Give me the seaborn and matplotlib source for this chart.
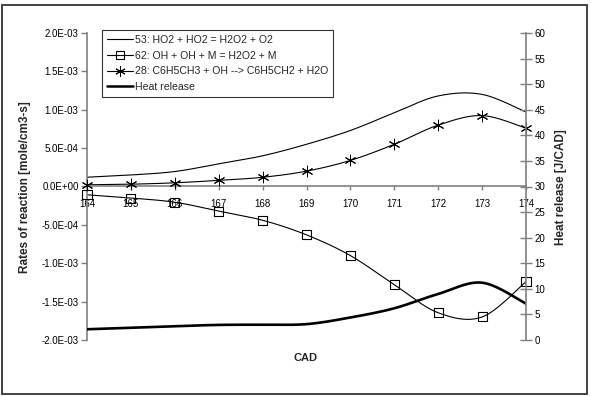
import numpy as np
import pandas as pd
import matplotlib
matplotlib.use("Agg")
import matplotlib.pyplot as plt
import seaborn as sns
from matplotlib.lines import Line2D
from matplotlib.patches import Rectangle
from matplotlib.ticker import FuncFormatter, MultipleLocator

# ---- data ----
cad = [164, 165, 166, 167, 168, 169, 170, 171, 172, 173, 174]
r53 = [1.21e-4, 1.50e-4, 1.95e-4, 2.95e-4, 4.0e-4, 5.5e-4, 7.3e-4, 9.6e-4, 1.18e-3, 1.20e-3, 9.7e-4]
r62 = [-1.08e-4, -1.5e-4, -2.05e-4, -3.2e-4, -4.4e-4, -6.3e-4, -9.0e-4, -1.28e-3, -1.645e-3, -1.70e-3, -1.24e-3]
r28 = [2.2e-5, 3.0e-5, 4.8e-5, 8.0e-5, 1.2e-4, 2.0e-4, 3.4e-4, 5.5e-4, 8.0e-4, 9.24e-4, 7.6e-4]
heat = [2.1, 2.4, 2.7, 2.95, 3.0, 3.1, 4.4, 6.2, 9.0, 11.2, 7.1]

labels = ["53: HO2 + HO2 = H2O2 + O2",
          "62: OH + OH + M = H2O2 + M",
          "28: C6H5CH3 + OH --> C6H5CH2 + H2O",
          "Heat release"]


def smooth(x, y, n=30):
    """Excel-style smoothed line (cubic Bezier through the points)."""
    x = np.asarray(x, float)
    y = np.asarray(y, float)
    px = np.concatenate([[x[0]], x, [x[-1]]])
    py = np.concatenate([[y[0]], y, [y[-1]]])
    xs, ys = [], []
    t = np.linspace(0, 1, n)
    for i in range(1, len(px) - 2):
        p0 = np.array([px[i], py[i]])
        p3 = np.array([px[i + 1], py[i + 1]])
        c1 = p0 + (np.array([px[i + 1], py[i + 1]]) - np.array([px[i - 1], py[i - 1]])) / 6
        c2 = p3 - (np.array([px[i + 2], py[i + 2]]) - np.array([px[i], py[i]])) / 6
        pts = ((1 - t) ** 3)[:, None] * p0 + (3 * (1 - t) ** 2 * t)[:, None] * c1 \
            + (3 * (1 - t) * t ** 2)[:, None] * c2 + (t ** 3)[:, None] * p3
        xs.extend(pts[:, 0])
        ys.extend(pts[:, 1])
    return pd.DataFrame({"x": xs, "y": ys})


sns.set_theme(style="white")
plt.rcParams["font.family"] = ["Liberation Sans", "DejaVu Sans"]

fig = plt.figure(figsize=(5.91, 3.96), dpi=100)
fig.patches.append(Rectangle((0.003, 0.005), 0.991, 0.983, transform=fig.transFigure,
                             fill=False, edgecolor="#333333", linewidth=1.3, zorder=0))

ax = fig.add_axes([87 / 591, 1 - 340 / 396, (526 - 87) / 591, (340 - 33) / 396])
ax.set_facecolor("none")
ax2 = ax.twinx()

gray = "#808080"
lw = 0.8

# reaction rates
d53 = smooth(cad, r53)
d62 = smooth(cad, r62)
d28 = smooth(cad, r28)
sns.lineplot(data=d53, x="x", y="y", ax=ax, color="black", linewidth=lw, sort=False,
             estimator=None, legend=False)
sns.lineplot(data=d62, x="x", y="y", ax=ax, color="black", linewidth=lw, sort=False,
             estimator=None, legend=False)
sns.lineplot(data=d28, x="x", y="y", ax=ax, color="black", linewidth=lw, sort=False,
             estimator=None, legend=False)
pts = pd.DataFrame({"cad": cad, "r62": r62, "r28": r28})
sns.scatterplot(data=pts, x="cad", y="r62", ax=ax, marker="s", s=42,
                facecolor="none", edgecolor="black", linewidth=0.8, clip_on=False, zorder=5)
ax.scatter(cad, r28, marker=(6, 2, 0), s=60, color="black", linewidth=0.7, clip_on=False, zorder=5)

# heat release
dh = smooth(cad, heat)
sns.lineplot(data=dh, x="x", y="y", ax=ax2, color="black", linewidth=1.9, sort=False,
             estimator=None, legend=False)

ax.set_xlim(164, 174)
ax.set_ylim(-2.0e-3, 2.0e-3)
ax2.set_ylim(0, 60)

# spines
for s in ["top", "right"]:
    ax.spines[s].set_visible(False)
for s in ["top", "left", "bottom"]:
    ax2.spines[s].set_visible(False)
ax.spines["bottom"].set_position(("data", 0))
for sp in [ax.spines["left"], ax.spines["bottom"], ax2.spines["right"]]:
    sp.set_color(gray)
    sp.set_linewidth(1.2)

ax.yaxis.set_major_locator(MultipleLocator(5e-4))
ax.yaxis.set_major_formatter(FuncFormatter(lambda v, p: "%.1E" % v))
ax.xaxis.set_major_locator(MultipleLocator(1))
ax2.yaxis.set_major_locator(MultipleLocator(5))

ax.tick_params(axis="y", left=True, direction="out", length=4, width=1, color=gray,
               labelsize=7, pad=2, labelcolor="black")
ax.tick_params(axis="x", bottom=True, direction="out", length=3, width=1, color=gray,
               labelsize=7, pad=6, labelcolor="black")
ax2.tick_params(axis="y", right=True, direction="inout", length=8, width=1, color=gray,
                labelsize=7, pad=2, labelcolor="black")
ax.grid(False)
ax2.grid(False)

ax.set_xlabel("")
ax.set_ylabel("")
ax2.set_xlabel("")
ax2.set_ylabel("")
fig.text(306 / 591, 1 - 358 / 396, "CAD", ha="center", va="center", fontsize=8, fontweight="bold")
fig.text(25 / 591, 1 - 187 / 396, "Rates of reaction [mole/cm3-s]", ha="center", va="center",
         rotation=90, fontsize=8.5, fontweight="bold")
fig.text(561 / 591, 1 - 187 / 396, "Heat release [J/CAD]", ha="center", va="center",
         rotation=90, fontsize=8.5, fontweight="bold")

handles = [
    Line2D([], [], color="black", linewidth=lw),
    Line2D([], [], color="black", linewidth=lw, marker="s", markersize=6,
           markerfacecolor="none", markeredgecolor="black", markeredgewidth=0.8),
    Line2D([], [], color="black", linewidth=lw, marker=(6, 2, 0), markersize=7.5,
           markeredgewidth=0.7),
    Line2D([], [], color="black", linewidth=1.8),
]
leg = ax2.legend(handles, labels, loc="upper left", bbox_to_anchor=(102 / 591, 1 - 30 / 396),
                 bbox_transform=fig.transFigure, borderaxespad=0, fontsize=7.6, frameon=True,
                 fancybox=False, edgecolor="black", handlelength=2.5, handletextpad=0.2,
                 labelspacing=0.55, borderpad=0.45)
leg.get_frame().set_linewidth(0.8)

fig.savefig("out.png", dpi=100)
